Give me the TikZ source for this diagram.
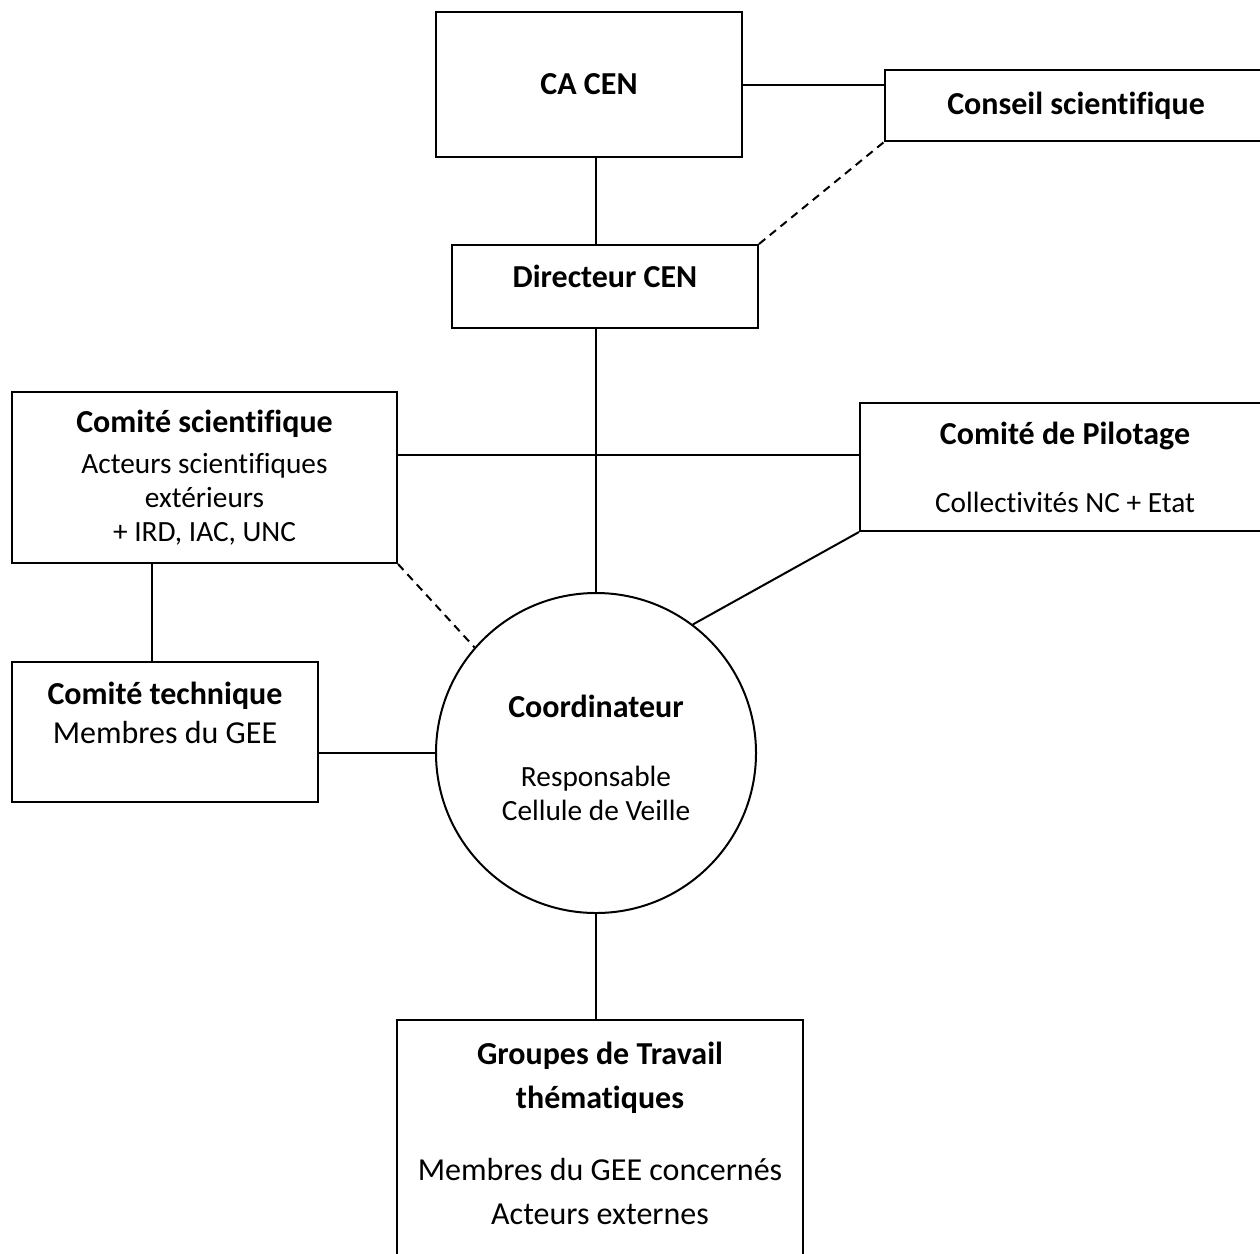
\documentclass[tikz,border=0pt]{standalone}
\usepackage{fontspec}
\setmainfont{Carlito}[Ligatures=NoCommon]
\newcommand{\titre}[1]{{\fontsize{12}{14.5}\selectfont\bfseries #1}}

\begin{document}
\begin{tikzpicture}[x=0.375pt, y=-0.375pt,
    box/.style={draw, line width=0.75pt, align=center, inner sep=0pt},
    petit/.style={font=\fontsize{11}{12.8}\selectfont},
    grand/.style={font=\fontsize{12}{16.5}\selectfont},
    lien/.style={line width=0.75pt},
    pointille/.style={line width=0.75pt, dash pattern=on 3pt off 2.2pt}]
\clip (0,0) rectangle (1260,1253);

% Direction
\node[box, petit, minimum width=114.75pt, minimum height=54.375pt] (ca) at (589,84.5) {\titre{CA CEN}};
\node[box, petit, minimum width=143.25pt, minimum height=26.625pt] (cs) at (1076,105.5) {\titre{Conseil scientifique}};
\node[box, petit, minimum width=114.75pt, minimum height=31.125pt, text depth=7.9pt] (dir) at (605,286.5) {\titre{Directeur CEN}};

% Comites
\node[box, petit, minimum width=144.375pt, minimum height=64.125pt] (csc) at (204.5,477.5)
    {\titre{Comité scientifique}\\[2.5pt]Acteurs scientifiques\\extérieurs\\+ IRD, IAC, UNC};
\node[box, petit, minimum width=153.75pt, minimum height=48pt] (pil) at (1065,467)
    {\titre{Comité de Pilotage}\\[12.7pt]Collectivités NC + Etat};
\node[box, font=\fontsize{12}{14.6}\selectfont, minimum width=114.75pt, minimum height=52.5pt, text depth=14.6pt] (tech) at (165,732)
    {\titre{Comité technique}\\Membres du GEE};

% Coordinateur
\node[circle, draw, line width=0.75pt, align=center, inner sep=0pt, petit, minimum size=120pt, text height=50.8pt] (co) at (596,753)
    {\titre{Coordinateur}\\[13pt]Responsable\\Cellule de Veille};

% Groupes de travail
\node[box, grand, minimum width=152.25pt, minimum height=91.875pt, text depth=7.2pt] (grp) at (600,1142.5)
    {\titre{Groupes de Travail}\\\titre{thématiques}\\[10.5pt]Membres du GEE concernés\\Acteurs externes};

% Liens
\draw[lien] (ca.east) -- (ca.east -| cs.west);
\draw[lien] (co.north |- ca.south) -- (co.north |- dir.north);
\draw[pointille] (dir.north east) -- (cs.south west);
\draw[lien] (co.north |- dir.south) -- (co.north);
\coordinate (h) at (0,455);
\draw[lien] (h -| csc.east) -- (h -| pil.west);
\draw[lien] (pil.south west) -- (co.53);
\draw[pointille] (csc.south east) -- (co.139);
\coordinate (v) at (152,0);
\draw[lien] (v |- csc.south) -- (v |- tech.north);
\draw[lien] (co.west) -- (co.west -| tech.east);
\draw[lien] (co.south) -- (co.south |- grp.north);
\end{tikzpicture}
\end{document}
